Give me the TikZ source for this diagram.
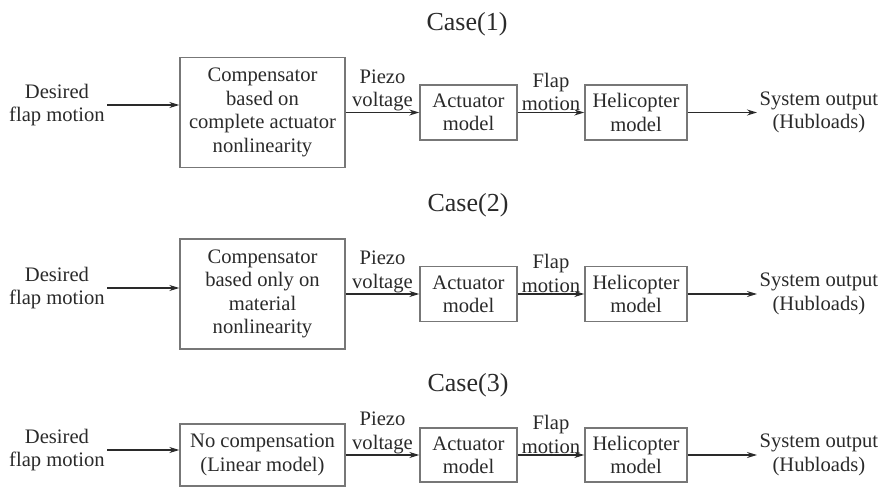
\documentclass[tikz,border=0pt]{standalone}
\usepackage{fontspec}
\setmainfont{Liberation Serif}
\usetikzlibrary{arrows.meta, positioning}
\definecolor{cbox}{HTML}{777777}
\definecolor{cink}{HTML}{2A2A2A}
\tikzset{
  every picture/.style={font=\fontsize{10.3}{11.7}\selectfont, line width=0.7pt},
  blk/.style={draw=cbox, align=center, inner sep=0pt, text=cink},
  arrow/.style={-{Stealth[length=5pt, width=3pt]}, draw=cink},
  title/.style={font=\fontsize{13}{15}\selectfont, text=cink},
  note/.style={align=center, inner sep=1pt, text=cink},
  lbl/.style={note, inner sep=0.4pt, above, midway},
}

\begin{document}
\begin{tikzpicture}[x=0.5pt, y=-0.5pt]
  \useasboundingbox (0,0) rectangle (880,487);
  % Case 1
  \node[title] (case1) at (467,24) {Case(1)};
  \node[note] (in1) at (57,105) {Desired\\flap motion};
  \node[blk, minimum width=82.5pt, minimum height=55pt] (comp1) at (262.5,112.5) {Compensator\\based on\\complete actuator\\nonlinearity};
  \node[blk, minimum width=48.5pt, minimum height=27.5pt] (act1) at (468.5,112.5) {Actuator\\model};
  \node[blk, minimum width=51pt, minimum height=27.5pt] (heli1) at (636,112.5) {Helicopter\\model};
  \node[note, anchor=west] (out1) at (757,112.5) {System output\\(Hubloads)};
  \draw[arrow] (in1.east) -- (in1.east -| comp1.west);
  \draw[arrow] (comp1.east) -- (act1.west) node[lbl] {Piezo\\voltage};
  \draw[arrow] (act1.east) -- (heli1.west) node[lbl] {Flap\\motion};
  \draw[arrow] (heli1.east) -- (out1.west);
  % Case 2
  \node[title] (case2) at (468,205) {Case(2)};
  \node[note] (in2) at (57,288) {Desired\\flap motion};
  \node[blk, minimum width=82.5pt, minimum height=55pt] (comp2) at (262.5,294) {Compensator\\based only on\\material\\nonlinearity};
  \node[blk, minimum width=48.5pt, minimum height=27.5pt] (act2) at (468.5,294) {Actuator\\model};
  \node[blk, minimum width=51pt, minimum height=27.5pt] (heli2) at (636,294) {Helicopter\\model};
  \node[note, anchor=west] (out2) at (757,294) {System output\\(Hubloads)};
  \draw[arrow] (in2.east) -- (in2.east -| comp2.west);
  \draw[arrow] (comp2.east) -- (act2.west) node[lbl] {Piezo\\voltage};
  \draw[arrow] (act2.east) -- (heli2.west) node[lbl] {Flap\\motion};
  \draw[arrow] (heli2.east) -- (out2.west);
  % Case 3
  \node[title] (case3) at (468,385) {Case(3)};
  \node[note] (in3) at (57,450) {Desired\\flap motion};
  \node[blk, minimum width=82.5pt, minimum height=31pt] (comp3) at (262.5,455) {No compensation\\(Linear model)};
  \node[blk, minimum width=48.5pt, minimum height=27pt] (act3) at (468.5,455) {Actuator\\model};
  \node[blk, minimum width=51pt, minimum height=27pt] (heli3) at (636,455) {Helicopter\\model};
  \node[note, anchor=west] (out3) at (757,455) {System output\\(Hubloads)};
  \draw[arrow] (in3.east) -- (in3.east -| comp3.west);
  \draw[arrow] (comp3.east) -- (act3.west) node[lbl] {Piezo\\voltage};
  \draw[arrow] (act3.east) -- (heli3.west) node[lbl] {Flap\\motion};
  \draw[arrow] (heli3.east) -- (out3.west);
\end{tikzpicture}
\end{document}
